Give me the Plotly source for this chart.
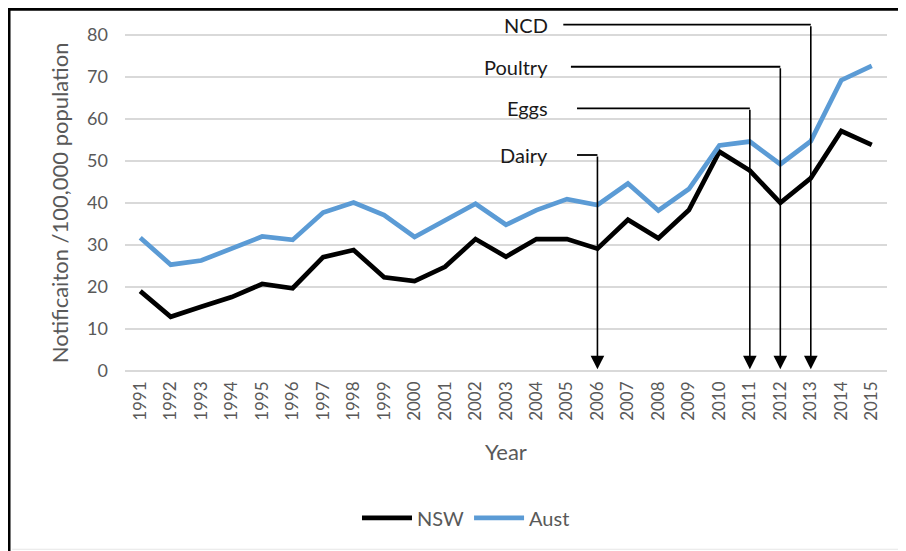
import plotly.graph_objects as go

years = list(range(1991, 2016))
nsw = [19.0, 12.9, 15.3, 17.6, 20.7, 19.7, 27.1, 28.8, 22.3, 21.4, 24.8, 31.4, 27.2,
       31.4, 31.4, 29.1, 36.0, 31.6, 38.3, 52.2, 47.7, 40.0, 45.9, 57.1, 53.8]
aust = [31.7, 25.3, 26.3, 29.1, 32.0, 31.2, 37.7, 40.1, 37.1, 31.9, 36.0, 39.8, 34.8,
        38.3, 40.9, 39.5, 44.6, 38.2, 43.3, 53.7, 54.6, 49.2, 54.7, 69.2, 72.6]

event_labels = ["NCD", "Poultry", "Eggs", "Dairy"]
event_years = [2013, 2012, 2011, 2006]
event_levels = [82.4, 72.4, 62.5, 51.4]
event_line_start = [2004.88, 2005.13, 2005.33, 2005.33]
label_right_x = 2004.45

y_ticks = [0, 10, 20, 30, 40, 50, 60, 70, 80]

FONT = "Lato"
GREY = "#595959"

fig = go.Figure()
fig.add_trace(go.Scatter(x=years, y=nsw, mode="lines", name="NSW",
                         line=dict(color="#000000", width=4.7)))
fig.add_trace(go.Scatter(x=years, y=aust, mode="lines", name="Aust",
                         line=dict(color="#5B9BD5", width=4.7)))

shapes = []
annotations = []
for lab, yr, lev, xs in zip(event_labels, event_years, event_levels, event_line_start):
    shapes.append(dict(type="line", xref="x", yref="y", x0=xs, x1=yr, y0=lev, y1=lev,
                       line=dict(color="#000000", width=1.8)))
    annotations.append(dict(x=yr, y=0.4, ax=yr, ay=lev, xref="x", yref="y",
                            axref="x", ayref="y", text="", showarrow=True,
                            arrowhead=2, arrowsize=1.7, arrowwidth=1.6,
                            arrowcolor="#000000", standoff=0))
    annotations.append(dict(x=label_right_x, y=lev, xref="x", yref="y", text=lab,
                            showarrow=False, xanchor="right", yanchor="middle",
                            font=dict(family=FONT, size=20, color="#1a1a1a")))

# axis titles
annotations.append(dict(x=-0.085, y=0.476, xref="paper", yref="paper",
                        text="Notificaiton /100,000 population", textangle=-90,
                        showarrow=False, xanchor="center", yanchor="middle",
                        font=dict(family=FONT, size=22, color=GREY)))
annotations.append(dict(x=0.5, y=-0.229, xref="paper", yref="paper", text="Year",
                        showarrow=False, xanchor="center", yanchor="middle",
                        font=dict(family=FONT, size=22, color=GREY)))

# frame (top and left edges)
shapes.append(dict(type="line", xref="paper", yref="paper", x0=-0.154, x1=1.04,
                   y0=1.025, y1=1.025, line=dict(color="#000000", width=3)))
shapes.append(dict(type="line", xref="paper", yref="paper", x0=-0.1522, x1=-0.1522,
                   y0=1.03, y1=-0.55, line=dict(color="#000000", width=3)))
shapes.append(dict(type="line", xref="paper", yref="paper", x0=-0.148, x1=1.04,
                   y0=-0.505, y1=-0.505, line=dict(color="#e6e6e6", width=1)))

fig.update_layout(
    width=906, height=551,
    margin=dict(l=117, r=27, t=10, b=188),
    paper_bgcolor="white", plot_bgcolor="white",
    font=dict(family=FONT, color=GREY),
    showlegend=True,
    legend=dict(orientation="h", x=0.4475, y=-0.416, xanchor="center", yanchor="middle",
                font=dict(family=FONT, size=20, color=GREY), itemwidth=50,
                tracegroupgap=0),
    shapes=shapes, annotations=annotations,
)
fig.update_xaxes(range=[1990.5, 2015.5], tickmode="array", tickvals=years,
                 ticktext=[str(y) for y in years], tickangle=-90,
                 showgrid=False, zeroline=False, showline=False, ticks="",
                 tickfont=dict(family=FONT, size=17, color=GREY),
                 ticklabelstandoff=6)
fig.update_yaxes(range=[0, 84], tickmode="array", tickvals=y_ticks,
                 showgrid=True, gridcolor="#d9d9d9", gridwidth=1.5,
                 zeroline=True, zerolinecolor="#d9d9d9", zerolinewidth=1.5,
                 showline=False, ticks="",
                 tickfont=dict(family=FONT, size=18, color=GREY),
                 ticklabelstandoff=16)

fig.write_html("out.html")
